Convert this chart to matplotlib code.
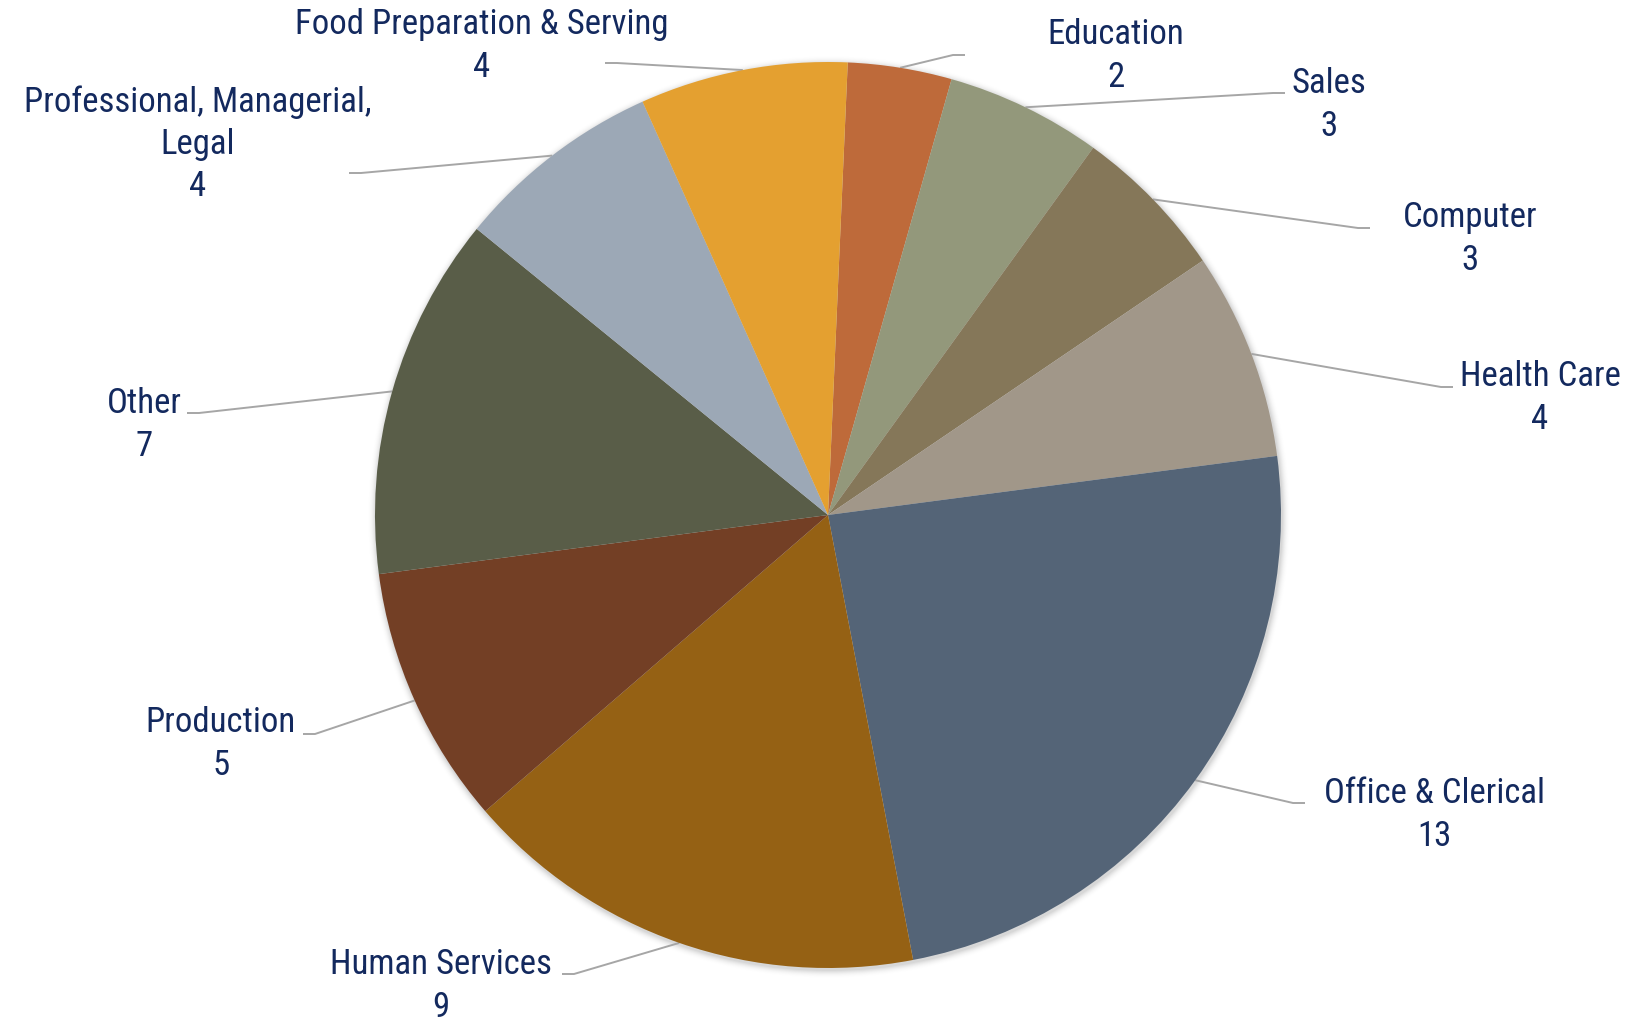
import matplotlib
matplotlib.use("Agg")
import matplotlib.pyplot as plt
import numpy as np
from matplotlib.patches import Circle

# Occupation counts, listed clockwise from the top of the pie
categories = ["Education", "Sales", "Computer", "Health Care", "Office & Clerical",
              "Human Services", "Production", "Other",
              "Professional, Managerial,\nLegal", "Food Preparation & Serving"]
counts = [2, 3, 3, 4, 13, 9, 5, 7, 4, 4]
colors = ["#BE6A3A", "#93987B", "#857759", "#A19789", "#546477",
          "#956114", "#733F25", "#595D48", "#9CA8B6", "#E4A030"]

# label block centres and leader line ends (pixel coords, y down)
label_pos = [(1116, 56), (1329, 105), (1470, 239), (1540, 398), (1434, 815),
             (441, 986), (221, 744), (144, 425), (198, 144), (482, 46)]
leader_end = [(965, 55), (1285, 93), (1370, 228), (1453, 387), (1305, 803),
              (562, 974), (303, 734), (187, 413), (349, 173), (605, 63)]

W, H = 1632, 1022
cx, cy, r = 828, H - 515, 453
start = 2.5  # degrees clockwise from 12 o'clock

text_color = "#13295E"
font = ["Roboto Condensed", "Archivo Narrow", "DejaVu Sans"]

fig = plt.figure(figsize=(W / 100, H / 100), dpi=100)
ax = fig.add_axes([0, 0, 1, 1])

# soft halo around the pie
for i in range(8):
    ax.add_patch(Circle((cx + 1, cy - 2), r + 1 + i, color="black",
                        alpha=0.035 * (1 - i / 8), lw=0, zorder=0))

ax.pie(counts, colors=colors, startangle=90 - start, counterclock=False,
       center=(cx, cy), radius=r, wedgeprops=dict(linewidth=0, zorder=2))

total = sum(counts)
cum = start
for name, val, (lx, ly), (ex, ey) in zip(categories, counts, label_pos, leader_end):
    mid = np.radians(cum + 360 * val / total / 2)
    cum += 360 * val / total
    rx = cx + r * np.sin(mid)
    ry = cy + r * np.cos(mid)
    ey = H - ey
    step = 12 if rx > ex else -12
    ax.plot([rx, ex + step, ex], [ry, ey, ey], color="#A6A6A6", lw=1.4, zorder=1,
            solid_capstyle="butt")
    ax.text(lx, H - ly, f"{name}\n{val}", ha="center", va="center", fontsize=25,
            color=text_color, family=font, linespacing=1.35, zorder=3)

ax.set_xlim(0, W)
ax.set_ylim(0, H)
ax.set_aspect("equal")
ax.axis("off")

fig.savefig("out.png", dpi=100, facecolor="white")
